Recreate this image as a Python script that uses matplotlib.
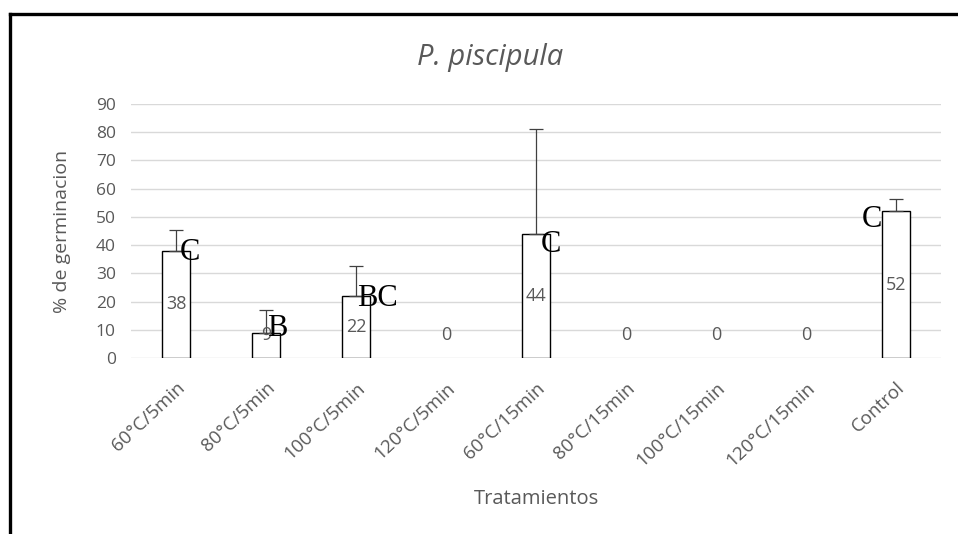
import numpy as np
import matplotlib.pyplot as plt
from matplotlib.lines import Line2D

plt.rcParams['font.family'] = ['Open Sans', 'DejaVu Sans']

# data
tratamientos = ['60°C/5min', '80°C/5min', '100°C/5min', '120°C/5min',
                '60°C/15min', '80°C/15min', '100°C/15min', '120°C/15min', 'Control']
germinacion = [38, 9, 22, 0, 44, 0, 0, 0, 52]
error_sup = [7.5, 8, 10.5, 0, 37, 0, 0, 0, 4.5]
letras = ['C', 'B', 'BC', '', 'C', '', '', '', 'C']

gris = '#595959'
W, H = 958, 534
fig = plt.figure(figsize=(W / 100, H / 100), dpi=100)
ax = fig.add_axes([131 / W, 1 - 358 / H, 810 / W, 254 / H])

x = np.arange(len(tratamientos))
vals = np.array(germinacion)
errs = np.array(error_sup)
nz = vals > 0

# bars (only non-zero ones are drawn)
ax.bar(x[nz], vals[nz], width=0.32, color='white', edgecolor='black',
       linewidth=1.0, zorder=3)
ax.errorbar(x[nz], vals[nz], yerr=[np.zeros(nz.sum()), errs[nz]], fmt='none',
            ecolor='#404040', elinewidth=0.9, capsize=4.7, capthick=0.9, zorder=4)

# data labels
for xi, v in zip(x, vals):
    ax.text(xi, max(v / 2, 8), str(v), ha='center', va='center',
            fontsize=13, color=gris, zorder=5)

# significance letters (hand placed in the original)
offs = [(4, -2, 'left'), (1, 4, 'left'), (1, -3, 'left'), None,
        (5, -11, 'left'), None, None, None, (-14, -8, 'right')]
for xi, v, let, o in zip(x, vals, letras, offs):
    if not let:
        continue
    ax.annotate(let, (xi, v), xytext=(o[0], o[1]), textcoords='offset pixels',
                ha=o[2], va='center', fontsize=22, family='Liberation Serif',
                color='black', zorder=6)

ax.set_xlim(-0.5, len(tratamientos) - 0.5)
ax.set_ylim(0, 90)
ax.set_yticks(np.arange(0, 91, 10))
ax.yaxis.grid(True, color='#d9d9d9', linewidth=1.0)
ax.set_axisbelow(True)
for s in ax.spines.values():
    s.set_visible(False)
ax.tick_params(axis='both', length=0, labelcolor=gris)
ax.tick_params(axis='y', pad=11, labelsize=12.5)
ax.tick_params(axis='x', pad=15, labelsize=13.5)
ax.set_xticks(x)
ax.set_xticklabels(tratamientos, rotation=43, ha='right', va='top',
                   rotation_mode='anchor')

fig.text(490 / W, 1 - 58 / H, 'P. piscipula', ha='center', va='center',
         fontsize=21, style='italic', color=gris)
fig.text(62 / W, 1 - 231 / H, '% de germinacion', ha='center', va='center',
         rotation=90, fontsize=14, color=gris)
fig.text(536 / W, 1 - 499 / H, 'Tratamientos', ha='center', va='center',
         fontsize=14.5, color=gris)

# black frame of the original picture
fig.add_artist(Line2D([10 / W, 1], [1 - 14 / H, 1 - 14 / H], color='black',
                      linewidth=2.4, transform=fig.transFigure))
fig.add_artist(Line2D([10 / W, 10 / W], [0, 1 - 14 / H], color='black',
                      linewidth=2.4, transform=fig.transFigure))

fig.savefig('out.png', dpi=100)
